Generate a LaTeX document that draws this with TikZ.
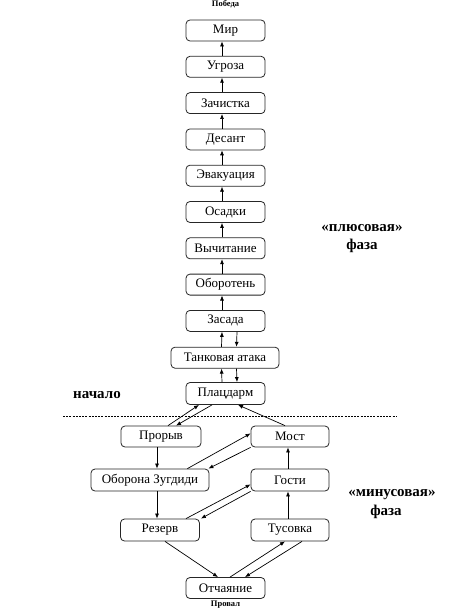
\documentclass[tikz,border=0pt]{standalone}
\usepackage{fontspec}
\setmainfont{Liberation Serif}
\usetikzlibrary{arrows.meta}
\begin{document}
\begin{tikzpicture}[x=1pt,y=-1pt,
  box/.style={draw=black!85,line width=0.8pt,rounded corners=4pt,fill=white,
    minimum height=21pt,minimum width=79pt,inner sep=1pt,font=\fontsize{13}{14}\selectfont},
  arr/.style={line width=0.7pt,-{Latex[length=5pt,width=4pt]}},
  lbl/.style={font=\bfseries\fontsize{15}{16}\selectfont,inner sep=0pt},
  small/.style={font=\bfseries\fontsize{8.5}{9}\selectfont,inner sep=0pt}]
\useasboundingbox (0,0) rectangle (466,615);
% upper chain
\node[box] (mir) at (225.5,30.5) {Мир};
\node[box] (ugr) at (225.5,66.8) {Угроза};
\node[box] (zach) at (225.5,103.1) {Зачистка};
\node[box] (des) at (225.5,139.4) {Десант};
\node[box] (evak) at (225.5,175.7) {Эвакуация};
\node[box] (osad) at (225.5,212) {Осадки};
\node[box] (vych) at (225.5,248.3) {Вычитание};
\node[box] (obor) at (225.5,284.6) {Оборотень};
\node[box] (zas) at (225.5,320.9) {Засада};
\node[box,minimum width=108pt] (tank) at (225,357.7) {Танковая атака};
\node[box,minimum height=22pt] (plac) at (225.5,393.5) {Плацдарм};
% lower part
\node[box,minimum width=80pt] (pror) at (161,436.5) {Прорыв};
\node[box,minimum width=78pt] (most) at (290,436.5) {Мост};
\node[box,minimum width=118pt,minimum height=22pt] (obz) at (150,480) {Оборона Зугдиди};
\node[box,minimum width=78pt,minimum height=22pt] (gost) at (290,480) {Гости};
\node[box,minimum height=22pt] (rez) at (160,530) {Резерв};
\node[box,minimum width=78pt,minimum height=22pt] (tus) at (290,530) {Тусовка};
\node[box] (otch) at (225.5,588) {Отчаяние};
% labels
\node[small] (pob) at (225.5,4) {Победа};
\node[small] (prov) at (225.5,605) {Провал};
\node[lbl] (plus1) at (362,228) {«плюсовая»};
\node[lbl] (plus2) at (362,245.5) {фаза};
\node[lbl] (nach) at (97,395) {начало};
\node[lbl] (min1) at (392,495) {«минусовая»};
\node[lbl] (min2) at (386,512) {фаза};
\coordinate (dl) at (63,416);
\coordinate (dr) at (396,416);
\draw[line width=0.7pt,dash pattern=on 2pt off 1.2pt] (dl) -- (dr);
% upper arrows
\foreach \a/\b in {ugr/mir,zach/ugr,des/zach,evak/des,osad/evak,vych/osad,obor/vych,zas/obor}
  \draw[arr] ([xshift=-3.5pt]\a.north) -- ([xshift=-3.5pt]\b.south);
\draw[arr] ([xshift=-3.5pt]tank.north) -- ([xshift=-3.5pt]zas.south);
\draw[arr] ([xshift=11.5pt]zas.south) -- ([xshift=11.5pt]tank.north);
\draw[arr] ([xshift=-3.5pt]plac.north) -- ([xshift=-3.5pt]tank.south);
\draw[arr] ([xshift=11.5pt]tank.south) -- ([xshift=11.5pt]plac.north);
% lower arrows
\draw[arr] ([xshift=7pt]pror.north) -- ([xshift=-26.5pt]plac.south);
\draw[arr] ([xshift=-13.5pt]plac.south) -- ([xshift=15pt]pror.north);
\draw[arr] ([xshift=-5pt]most.north) -- ([xshift=12.5pt]plac.south);
\draw[arr] ([xshift=-4pt]pror.south) -- ([xshift=7pt]obz.north);
\draw[arr] ([xshift=-22pt]obz.north east) -- ([yshift=14pt]most.south west);
\draw[arr] (most.south west) -- ([xshift=-1pt]obz.north east);
\draw[arr] ([xshift=7pt]obz.south) -- ([xshift=-3pt]rez.north);
\draw[arr] ([xshift=26pt]rez.north) -- ([yshift=7pt]gost.south west);
\draw[arr] (gost.south west) -- ([xshift=1pt]rez.north east);
\draw[arr] ([xshift=-2pt]gost.north) -- ([xshift=-2pt]most.south);
\draw[arr] ([xshift=-2pt]tus.north) -- ([xshift=-2pt]gost.south);
\draw[arr] ([xshift=5pt]rez.south) -- ([xshift=-7.5pt]otch.north);
\draw[arr] ([xshift=4.5pt]otch.north) -- ([xshift=-5pt]tus.south);
\draw[arr] ([xshift=12pt]tus.south) -- ([xshift=19.5pt]otch.north);
\end{tikzpicture}
\end{document}
